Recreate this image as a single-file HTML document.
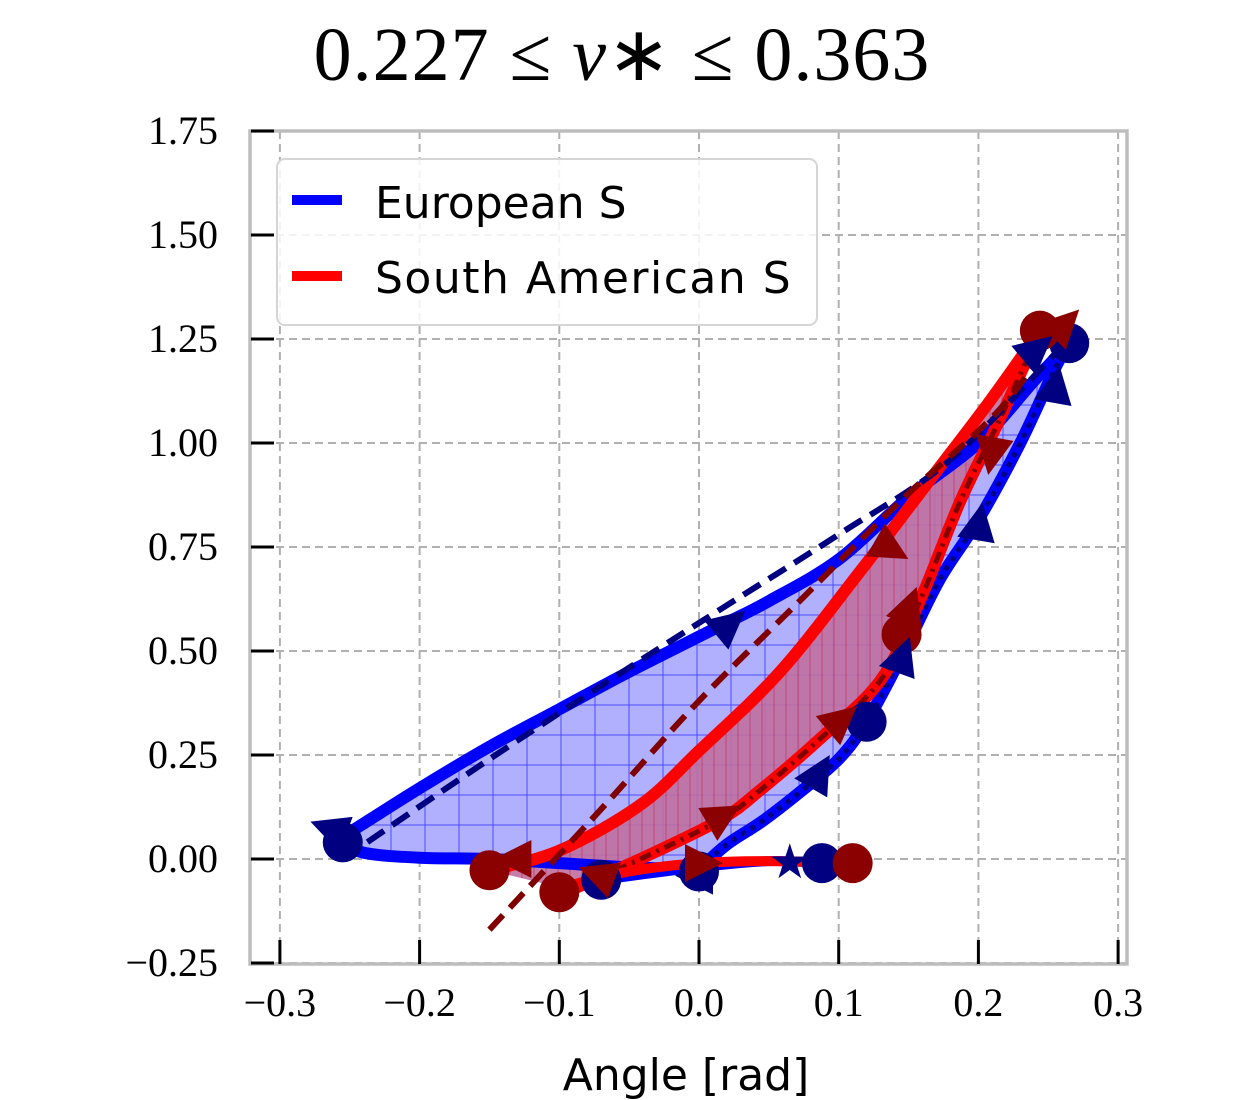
<!DOCTYPE html>
<html><head><meta charset="utf-8"><style>
html,body{margin:0;padding:0;background:#fff;}
svg{display:block;}
.tl{font-family:"Liberation Serif",serif;font-size:40px;fill:#000;}
.sans{font-family:"DejaVu Sans","Liberation Sans",sans-serif;}
</style></head><body>
<svg id="chart" width="1250" height="1100" viewBox="0 0 1250 1100" xmlns="http://www.w3.org/2000/svg">
<defs>
<clipPath id="clip"><rect x="250" y="131" width="877" height="833"/></clipPath>
<pattern id="hatchB" width="34" height="30" patternUnits="userSpaceOnUse"><path d="M17 0V30M0 15H34" stroke="#2020ff" stroke-width="1" opacity="0.7"/></pattern>
<pattern id="hatchR" width="12" height="40" patternUnits="userSpaceOnUse"><path d="M6 0V40" stroke="#c03060" stroke-width="1" opacity="0.7"/></pattern>
</defs>
<text x="622" y="80" text-anchor="middle" font-family="Liberation Serif,serif" font-size="76" letter-spacing="1">0.227 ≤ <tspan font-style="italic">v</tspan>∗ ≤ 0.363</text>
<g id="grid"></g>
<g id="plot" clip-path="url(#clip)"></g>
<rect x="250" y="131" width="877" height="833" fill="none" stroke="#bdbdbd" stroke-width="3.5"/>
<g id="ticks"></g>
<text class="sans" x="686" y="1090" text-anchor="middle" font-size="44">Angle [rad]</text>
<g>
<rect x="277" y="159" width="540" height="166" rx="8" fill="#fff" fill-opacity="0.85" stroke="#d5d5d5" stroke-width="2"/>
<g><line x1="292" y1="200" x2="342" y2="200" stroke="#0000ff" stroke-width="10"/><text class="sans" x="375" y="218" font-size="44">European S</text></g>
<g><line x1="292" y1="276" x2="342" y2="276" stroke="#ff0000" stroke-width="10"/><text class="sans" x="375" y="293" font-size="44" letter-spacing="1.5">South American S</text></g>
</g>
</svg>
<script>
const xTicks=[-0.3,-0.2,-0.1,0.0,0.1,0.2,0.3];
const xTickLabels=["−0.3","−0.2","−0.1","0.0","0.1","0.2","0.3"];
const yTicks=[-0.25,0,0.25,0.5,0.75,1.0,1.25,1.5,1.75];
const yTickLabels=["−0.25","0.00","0.25","0.50","0.75","1.00","1.25","1.50","1.75"];
// European S
const euUpperX=[0.265,0.24,0.2,0.15,0.1,0.05,0.015,-0.05,-0.1,-0.15,-0.2,-0.259];
const euUpperY=[1.24,1.15,1.0,0.87,0.72,0.62,0.56,0.45,0.36,0.27,0.17,0.045];
const euBottomX=[-0.259,-0.24,-0.2,-0.15,-0.1,-0.05,0.0];
const euBottomY=[0.045,0.015,0.003,0.0,-0.01,-0.02,-0.025];
const euLowerX=[0.0,0.02,0.045,0.072,0.1,0.12,0.144,0.172,0.2,0.23,0.255,0.265];
const euLowerY=[-0.025,0.035,0.09,0.16,0.24,0.33,0.48,0.67,0.815,1.0,1.18,1.24];
// South American S
const saLoadX=[-0.15,-0.1,-0.042,0.0,0.058,0.115,0.165,0.208,0.244];
const saLoadY=[-0.027,0.02,0.13,0.26,0.45,0.69,0.91,1.1,1.27];
const saUnloadX=[0.244,0.215,0.187,0.158,0.13,0.087,0.044,0.015,-0.042,-0.092];
const saUnloadY=[1.27,1.055,0.86,0.62,0.43,0.29,0.166,0.094,0.0,-0.075];
const saBaseX=[-0.1,-0.05,0.0,0.05,0.11];
const saBaseY=[-0.07,-0.03,-0.01,-0.005,-0.01];
const euBaseX=[-0.07,0.0,0.05,0.09];
const euBaseY=[-0.05,-0.02,-0.005,-0.01];
// dashed trends
const euDashX=[-0.255,-0.15,-0.05,0.02,0.1,0.18,0.262];
const euDashY=[0.0,0.24,0.46,0.61,0.78,0.96,1.24];
const saDashX=[-0.15,-0.07,0.0,0.072,0.144,0.215,0.258];
const saDashY=[-0.17,0.12,0.38,0.62,0.86,1.08,1.28];
// markers
const euCircX=[0.265,0.12,-0.07,0.0,0.088,-0.255];
const euCircY=[1.24,0.33,-0.05,-0.03,-0.01,0.04];
const saCircX=[0.244,-0.15,-0.1,0.11,0.145];
const saCircY=[1.27,-0.027,-0.08,-0.01,0.54];
const euTriX=[0.02,-0.262,0.255,0.2,0.145,0.085,0.24,0.0];
const euTriY=[0.56,0.07,1.13,0.8,0.48,0.2,1.22,-0.04];
const euTriA=[-40,200,-80,-80,-70,-60,-40,180];
const saTriX=[0.135,0.26,0.21,0.15,0.1,0.015,-0.13,-0.07,0.0];
const saTriY=[0.75,1.28,0.98,0.6,0.33,0.1,0.0,-0.04,-0.01];
const saTriA=[30,-45,100,-70,-40,-30,180,200,0];
const euStarX=[0.065];
const euStarY=[-0.01];

const NS="http://www.w3.org/2000/svg";
const X=v=>699+v*1397;
const Y=v=>859-v*416;
function mk(parent,tag,attrs){const e=document.createElementNS(NS,tag);for(const k in attrs)e.setAttribute(k,attrs[k]);parent.appendChild(e);return e;}
function pts(xs,ys){return xs.map((x,i)=>[X(x),Y(ys[i])]);}
function smooth(p){let d="M"+p[0][0]+" "+p[0][1];for(let i=0;i<p.length-1;i++){const p0=p[Math.max(i-1,0)],p1=p[i],p2=p[i+1],p3=p[Math.min(i+2,p.length-1)];const c1=[p1[0]+(p2[0]-p0[0])/6,p1[1]+(p2[1]-p0[1])/6],c2=[p2[0]-(p3[0]-p1[0])/6,p2[1]-(p3[1]-p1[1])/6];d+=" C"+c1[0]+" "+c1[1]+" "+c2[0]+" "+c2[1]+" "+p2[0]+" "+p2[1];}return d;}
const grid=document.getElementById('grid'),plot=document.getElementById('plot'),ticks=document.getElementById('ticks');
xTicks.forEach((t,i)=>{
 const g=mk(grid,'line',{x1:X(t),x2:X(t),y1:131,y2:964,stroke:'#b0b0b0','stroke-width':2,'stroke-dasharray':'8,5'});
 
 const tk=mk(ticks,'line',{x1:X(t),x2:X(t),y1:940,y2:964,stroke:'#000','stroke-width':3});
 
 const tx=mk(ticks,'text',{x:X(t),y:1016,'text-anchor':'middle',class:'tl'});tx.textContent=xTickLabels[i];
 
});
yTicks.forEach((t,i)=>{
 const g=mk(grid,'line',{x1:250,x2:1127,y1:Y(t),y2:Y(t),stroke:'#b0b0b0','stroke-width':2,'stroke-dasharray':'8,5'});
 
 const tk=mk(ticks,'line',{x1:251,x2:274,y1:Y(t),y2:Y(t),stroke:'#000','stroke-width':3});
 
 const tx=mk(ticks,'text',{x:218,y:Y(t)+13,'text-anchor':'end',class:'tl'});tx.textContent=yTickLabels[i];
 
});
let f=mk(plot,'path',{d:smooth(pts(euUpperX,euUpperY))+" L"+smooth(pts(euBottomX,euBottomY)).slice(1)+" L"+smooth(pts(euLowerX,euLowerY)).slice(1)+"Z",fill:'#b0b0ff',stroke:'none'});

f=mk(plot,'path',{d:f.getAttribute('d'),fill:'url(#hatchB)',stroke:'none'});

f=mk(plot,'path',{d:smooth(pts(saLoadX,saLoadY))+" L"+smooth(pts(saUnloadX,saUnloadY)).slice(1)+"Z",fill:'#c070a0',stroke:'none','fill-opacity':0.9});

f=mk(plot,'path',{d:f.getAttribute('d'),fill:'url(#hatchR)',stroke:'none'});

function line(xs,ys,color,w,dash,name){const e=mk(plot,'path',{d:smooth(pts(xs,ys)),fill:'none',stroke:color,'stroke-width':w,'stroke-linecap':'butt','stroke-linejoin':'round'});if(dash)e.setAttribute('stroke-dasharray',dash);
 
 return e;}
line(euUpperX,euUpperY,'#0000ff',12,null,'european-unloading-line');
line(euBottomX,euBottomY,'#0000ff',12,null,'european-bottom-line');
line(euLowerX,euLowerY,'#0000ff',12,null,'european-loading-line');
line(euLowerX,euLowerY,'#000080',5,'5,6','european-dotted-line');
line(euBaseX,euBaseY,'#0000ff',10,null,'european-base-line');
line(saLoadX,saLoadY,'#ff0000',12,null,'south-american-loading-line');
line(saUnloadX,saUnloadY,'#ff0000',12,null,'south-american-unloading-line');
line(saUnloadX,saUnloadY,'#800000',5,'12,6,3,6','south-american-dashdot-line');
line(saBaseX,saBaseY,'#ff0000',10,null,'south-american-base-line');
line(euDashX,euDashY,'#000080',6,'20,10','european-dashed-trend');
line(saDashX,saDashY,'#800000',6,'20,10','south-american-dashed-trend');
function circles(xs,ys,color,name){xs.forEach((x,i)=>{const c=mk(plot,'circle',{cx:X(x),cy:Y(ys[i]),r:20,fill:color});
 
 });}
function tris(xs,ys,as,color,name){xs.forEach((x,i)=>{const t=mk(plot,'polygon',{points:'24,0 -14,-19 -14,19',fill:color,transform:'translate('+X(x)+','+Y(ys[i])+') rotate('+as[i]+')'});
 
 });}
circles(euCircX,euCircY,'#000080','european-circle-marker');
circles(saCircX,saCircY,'#8b0000','south-american-circle-marker');
tris(euTriX,euTriY,euTriA,'#000080','european-triangle-marker');
tris(saTriX,saTriY,saTriA,'#8b0000','south-american-triangle-marker');
euStarX.forEach((x,i)=>{const s=mk(plot,'text',{x:X(x),y:Y(euStarY[i])+15,'text-anchor':'middle','font-size':48,fill:'#000080','font-family':'DejaVu Sans,sans-serif'});s.textContent='★';
 
 });
</script>
</body></html>
